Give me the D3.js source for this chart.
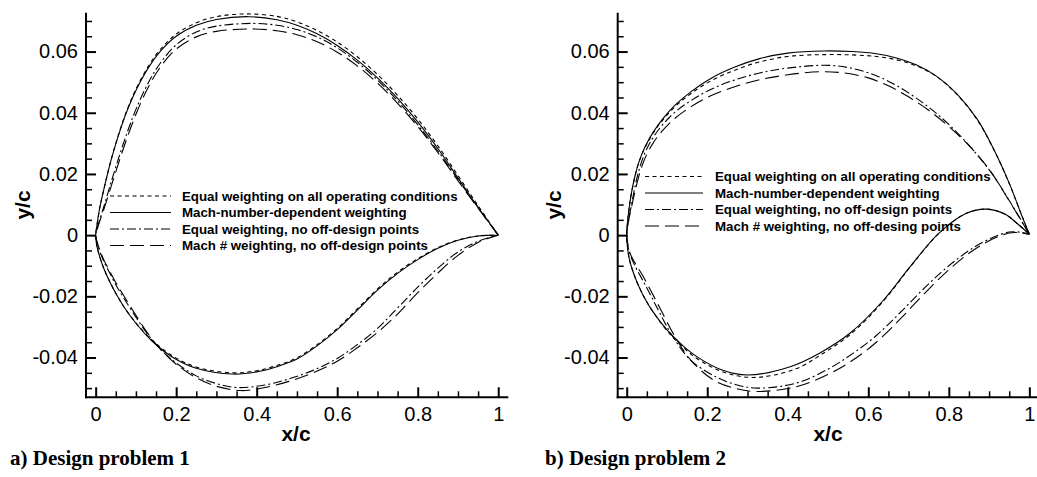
<!DOCTYPE html>
<html>
<head>
<meta charset="UTF-8">
<title>Airfoil shapes, two design problems</title>
<script src="https://d3js.org/d3.v7.min.js"></script>
<style>
    body { margin: 0; background: #fff; }
    text { font-family: "Liberation Sans", Arial, Helvetica, sans-serif; fill: #000; }
    text.caption { font-family: "Liberation Serif", "Times New Roman", serif; }
</style>
</head>
<body>
<script>
// ---- data (x/c, y/c) ----
var legend1 = ["Equal weighting on all operating conditions", "Mach-number-dependent weighting",
    "Equal weighting, no off-design points", "Mach # weighting, no off-design points"];
var legend2 = ["Equal weighting on all operating conditions", "Mach-number-dependent weighting",
    "Equal weighting, no off-design points", "Mach # weighting, no off-desing points"];
var captions = ["a) Design problem 1", "b) Design problem 2"];
var xTicks = [0, 0.2, 0.4, 0.6, 0.8, 1];
var yTicks = [-0.04, -0.02, 0, 0.02, 0.04, 0.06];
var xMinor = [0.05, 0.1, 0.15, 0.25, 0.3, 0.35, 0.45, 0.5, 0.55, 0.65, 0.7, 0.75, 0.85, 0.9, 0.95];
var yMinor = [-0.05, -0.045, -0.035, -0.03, -0.025, -0.015, -0.01, -0.005, 0.005, 0.01, 0.015,
    0.025, 0.03, 0.035, 0.045, 0.05, 0.055, 0.065, 0.07];

// design problem 1
var p1EqualUpper = [[0,0],[0.003,0.003],[0.01,0.0088],[0.02,0.0148],[0.04,0.0254],[0.06,0.0342],[0.08,0.0416],[0.1,0.0477],[0.13,0.055],[0.16,0.0606],[0.2,0.0657],[0.25,0.0694],[0.3,0.0714],[0.37,0.0723],[0.45,0.0715],[0.5,0.0697],[0.55,0.0669],[0.6,0.0631],[0.65,0.0583],[0.7,0.0525],[0.75,0.0457],[0.8,0.038],[0.85,0.0292],[0.9,0.0195],[0.95,0.0096],[1,0]];
var p1EqualLower = [[0,0],[0.003,-0.0035],[0.01,-0.007],[0.02,-0.0108],[0.035,-0.0152],[0.05,-0.019],[0.07,-0.0234],[0.1,-0.0287],[0.14,-0.0343],[0.19,-0.0394],[0.25,-0.0431],[0.34,-0.045],[0.4,-0.0443],[0.45,-0.0426],[0.5,-0.0401],[0.55,-0.0358],[0.6,-0.0305],[0.65,-0.0241],[0.7,-0.0176],[0.75,-0.0121],[0.8,-0.0077],[0.85,-0.0041],[0.9,-0.0016],[0.95,-0.0003],[1,0]];
var p1MachUpper = [[0,0],[0.003,0.003],[0.01,0.0088],[0.02,0.0148],[0.04,0.0253],[0.06,0.034],[0.08,0.0413],[0.1,0.0473],[0.13,0.0545],[0.16,0.06],[0.2,0.065],[0.25,0.0686],[0.3,0.0705],[0.38,0.0714],[0.45,0.0704],[0.5,0.0686],[0.55,0.0658],[0.6,0.062],[0.65,0.0572],[0.7,0.0514],[0.75,0.0447],[0.8,0.037],[0.85,0.0283],[0.9,0.0187],[0.95,0.0091],[1,0]];
var p1MachLower = [[0,0],[0.003,-0.0035],[0.01,-0.007],[0.02,-0.0108],[0.035,-0.0152],[0.05,-0.019],[0.07,-0.0234],[0.1,-0.0288],[0.14,-0.0346],[0.19,-0.0398],[0.25,-0.0435],[0.34,-0.0454],[0.4,-0.0447],[0.45,-0.043],[0.5,-0.0405],[0.55,-0.0362],[0.6,-0.0309],[0.65,-0.0245],[0.7,-0.018],[0.75,-0.0125],[0.8,-0.008],[0.85,-0.0043],[0.9,-0.0017],[0.95,-0.0003],[1,0]];
var p1EqualNoOffUpper = [[0,0],[0.004,0.0022],[0.01,0.005],[0.02,0.0092],[0.04,0.018],[0.06,0.0264],[0.08,0.0342],[0.1,0.0411],[0.13,0.0496],[0.16,0.0561],[0.2,0.0622],[0.25,0.0664],[0.3,0.0683],[0.39,0.0692],[0.45,0.0686],[0.5,0.0672],[0.55,0.0648],[0.6,0.0612],[0.65,0.0565],[0.7,0.0507],[0.75,0.0439],[0.8,0.0361],[0.85,0.0275],[0.9,0.0182],[0.95,0.009],[1,0]];
var p1EqualNoOffLower = [[0,0],[0.003,-0.0022],[0.01,-0.0052],[0.02,-0.0085],[0.035,-0.0124],[0.05,-0.0162],[0.07,-0.0206],[0.1,-0.0268],[0.13,-0.0325],[0.16,-0.0372],[0.2,-0.0418],[0.25,-0.046],[0.3,-0.0485],[0.35,-0.0498],[0.42,-0.049],[0.48,-0.047],[0.54,-0.0442],[0.6,-0.0403],[0.65,-0.0358],[0.7,-0.0305],[0.75,-0.0238],[0.8,-0.017],[0.85,-0.0108],[0.9,-0.0055],[0.95,-0.002],[1,0]];
var p1MachNoOffUpper = [[0,0],[0.004,0.002],[0.01,0.0045],[0.02,0.0083],[0.04,0.0166],[0.06,0.0248],[0.08,0.0325],[0.1,0.0395],[0.13,0.0482],[0.16,0.0548],[0.2,0.0608],[0.25,0.0648],[0.3,0.0666],[0.39,0.0674],[0.45,0.0668],[0.5,0.0655],[0.55,0.0632],[0.6,0.0598],[0.65,0.0553],[0.7,0.0497],[0.75,0.0431],[0.8,0.0355],[0.85,0.027],[0.9,0.0178],[0.95,0.0088],[1,0]];
var p1MachNoOffLower = [[0,0],[0.003,-0.002],[0.01,-0.0048],[0.02,-0.008],[0.035,-0.0118],[0.05,-0.0155],[0.07,-0.0198],[0.1,-0.0262],[0.13,-0.0322],[0.16,-0.0372],[0.2,-0.0422],[0.25,-0.0466],[0.3,-0.0494],[0.36,-0.0508],[0.42,-0.0498],[0.48,-0.0478],[0.54,-0.045],[0.6,-0.0412],[0.65,-0.0368],[0.7,-0.0318],[0.75,-0.0258],[0.8,-0.0188],[0.85,-0.0124],[0.9,-0.0066],[0.95,-0.0024],[1,0]];

// design problem 2
var p2EqualUpper = [[0,0],[0.002,0.0042],[0.006,0.0088],[0.012,0.014],[0.02,0.019],[0.03,0.0237],[0.045,0.0285],[0.065,0.0332],[0.09,0.0377],[0.12,0.042],[0.16,0.0463],[0.21,0.0505],[0.27,0.054],[0.33,0.0566],[0.4,0.0584],[0.49,0.059],[0.56,0.0589],[0.62,0.0584],[0.67,0.0573],[0.72,0.0553],[0.77,0.0518],[0.82,0.046],[0.87,0.0378],[0.91,0.0284],[0.95,0.0169],[0.98,0.0068],[1,0.0003]];
var p2EqualLower = [[0,0],[0.002,-0.004],[0.006,-0.0075],[0.012,-0.0105],[0.02,-0.0135],[0.03,-0.0167],[0.045,-0.0207],[0.065,-0.025],[0.1,-0.0312],[0.14,-0.0366],[0.175,-0.0404],[0.245,-0.045],[0.32,-0.0465],[0.42,-0.0437],[0.48,-0.0393],[0.555,-0.0325],[0.638,-0.0215],[0.704,-0.0104],[0.775,0.0005],[0.845,0.0072],[0.895,0.0085],[0.94,0.0068],[0.969,0.0039],[1,0.0003]];
var p2MachUpper = [[0,0],[0.002,0.0042],[0.006,0.0088],[0.012,0.014],[0.02,0.019],[0.03,0.0238],[0.045,0.0287],[0.065,0.0335],[0.09,0.0381],[0.12,0.0425],[0.16,0.0469],[0.21,0.0513],[0.27,0.055],[0.33,0.0577],[0.4,0.0595],[0.49,0.0602],[0.56,0.06],[0.62,0.0593],[0.67,0.0579],[0.72,0.0556],[0.77,0.0519],[0.82,0.0462],[0.87,0.038],[0.91,0.0285],[0.95,0.017],[0.98,0.0068],[1,0.0003]];
var p2MachLower = [[0,0],[0.002,-0.004],[0.006,-0.0075],[0.012,-0.0105],[0.02,-0.0135],[0.03,-0.0167],[0.045,-0.0207],[0.065,-0.025],[0.1,-0.031],[0.14,-0.0362],[0.175,-0.0398],[0.235,-0.044],[0.3,-0.0457],[0.406,-0.043],[0.48,-0.0385],[0.555,-0.032],[0.638,-0.0212],[0.704,-0.0103],[0.775,0.0006],[0.845,0.0072],[0.895,0.0085],[0.94,0.0068],[0.969,0.0039],[1,0.0003]];
var p2EqualNoOffUpper = [[0,0],[0.002,0.003],[0.006,0.006],[0.012,0.01],[0.02,0.0155],[0.03,0.021],[0.045,0.0268],[0.065,0.0318],[0.09,0.0362],[0.12,0.0402],[0.16,0.044],[0.21,0.0477],[0.27,0.0508],[0.33,0.053],[0.4,0.0546],[0.5,0.0555],[0.56,0.0545],[0.62,0.0521],[0.67,0.0489],[0.72,0.0447],[0.77,0.0397],[0.82,0.0336],[0.87,0.0263],[0.91,0.0196],[0.95,0.0113],[0.98,0.0048],[1,0.0003]];
var p2EqualNoOffLower = [[0,0],[0.003,-0.0035],[0.008,-0.0062],[0.015,-0.0085],[0.025,-0.0112],[0.04,-0.0148],[0.06,-0.0198],[0.085,-0.0262],[0.115,-0.0333],[0.16,-0.041],[0.224,-0.0465],[0.27,-0.0488],[0.324,-0.05],[0.42,-0.0484],[0.5,-0.0438],[0.56,-0.0388],[0.62,-0.0328],[0.68,-0.0252],[0.74,-0.0172],[0.8,-0.01],[0.86,-0.0042],[0.91,-0.0007],[0.95,0.001],[0.975,0.001],[1,0.0003]];
var p2MachNoOffUpper = [[0,0],[0.002,0.0028],[0.006,0.0056],[0.012,0.0092],[0.02,0.014],[0.03,0.0192],[0.045,0.025],[0.065,0.03],[0.09,0.0343],[0.12,0.0382],[0.16,0.042],[0.21,0.0456],[0.27,0.0486],[0.33,0.0508],[0.4,0.0524],[0.48,0.0534],[0.54,0.053],[0.6,0.0514],[0.65,0.0488],[0.7,0.0452],[0.75,0.0408],[0.8,0.0355],[0.85,0.0293],[0.9,0.0215],[0.95,0.0112],[0.98,0.0047],[1,0.0003]];
var p2MachNoOffLower = [[0,0],[0.003,-0.0032],[0.008,-0.0058],[0.015,-0.0078],[0.026,-0.0103],[0.04,-0.0133],[0.06,-0.0182],[0.085,-0.0245],[0.12,-0.0332],[0.16,-0.041],[0.216,-0.0474],[0.27,-0.0501],[0.32,-0.0511],[0.42,-0.0496],[0.5,-0.0455],[0.56,-0.041],[0.62,-0.035],[0.68,-0.0273],[0.74,-0.019],[0.8,-0.0113],[0.86,-0.005],[0.91,-0.0012],[0.95,0.0007],[0.975,0.0008],[1,0.0003]];

// ---- styles ----
var dashes = ["4,3.5", null, "9,3,2,3", "14,6"];

var w = 1037, h = 477;
var svg = d3.select("body").append("svg").attr("width", w).attr("height", h);

var y = d3.scaleLinear().domain([-0.053, 0.0727]).range([397.3, 12.7]);

var panels = [
    { xd: [-0.024, 1.025], xr: [86, 508.3], names: legend1,
      upper: [p1EqualUpper, p1MachUpper, p1EqualNoOffUpper, p1MachNoOffUpper],
      lower: [p1EqualLower, p1MachLower, p1EqualNoOffLower, p1MachNoOffLower],
      leg: { x0: 110, x1: 171, tx: 182, y: 196 }, ylab: 30, xlab: 296, cap: 10 },
    { xd: [-0.0224, 1.019], xr: [617.7, 1037], names: legend2,
      upper: [p2EqualUpper, p2MachUpper, p2EqualNoOffUpper, p2MachNoOffUpper],
      lower: [p2EqualLower, p2MachLower, p2EqualNoOffLower, p2MachNoOffLower],
      leg: { x0: 645, x1: 703, tx: 715, y: 176.5 }, ylab: 561, xlab: 828, cap: 545 }
];

var fmt = function (d) { return String(+d.toFixed(2)); };

panels.forEach(function (p, i) {
    var x = d3.scaleLinear().domain(p.xd).range(p.xr);
    var g = svg.append("g");

    // minor ticks
    g.append("g").attr("transform", "translate(" + p.xr[0] + ",0)")
        .call(d3.axisLeft(y).tickValues(yMinor).tickSize(-6).tickFormat(""))
        .call(function (s) { s.select(".domain").remove(); })
        .selectAll("line").attr("stroke-width", 1.5);
    g.append("g").attr("transform", "translate(0," + y.range()[0] + ")")
        .call(d3.axisBottom(x).tickValues(xMinor).tickSize(-6).tickFormat(""))
        .call(function (s) { s.select(".domain").remove(); })
        .selectAll("line").attr("stroke-width", 1.5);

    // major ticks and labels
    var ya = g.append("g").attr("transform", "translate(" + p.xr[0] + ",0)")
        .call(d3.axisLeft(y).tickValues(yTicks).tickSize(-10).tickPadding(8).tickFormat(fmt));
    var xa = g.append("g").attr("transform", "translate(0," + y.range()[0] + ")")
        .call(d3.axisBottom(x).tickValues(xTicks).tickSize(-10).tickPadding(10).tickFormat(fmt));
    [ya, xa].forEach(function (a) {
        a.select(".domain").remove();
        a.selectAll("line").attr("stroke-width", 2);
        a.selectAll("text").attr("font-size", 20).attr("font-family", null);
    });

    // axis lines
    g.append("line").attr("x1", p.xr[0]).attr("x2", p.xr[0])
        .attr("y1", y.range()[1]).attr("y2", y.range()[0] + 1)
        .attr("stroke", "#000").attr("stroke-width", 2);
    g.append("line").attr("x1", p.xr[0] - 1).attr("x2", p.xr[1])
        .attr("y1", y.range()[0]).attr("y2", y.range()[0])
        .attr("stroke", "#000").attr("stroke-width", 2);

    // airfoil outlines: upper surface TE -> LE, then lower surface LE -> TE
    var line = d3.line()
        .x(function (d) { return x(d[0]); })
        .y(function (d) { return y(d[1]); })
        .curve(d3.curveCatmullRom.alpha(0.5));
    p.upper.forEach(function (up, k) {
        var pts = up.slice().reverse().concat(p.lower[k].slice(1));
        g.append("path").attr("d", line(pts))
            .attr("fill", "none").attr("stroke", "#000").attr("stroke-width", 1.1)
            .attr("stroke-dasharray", dashes[k]);
    });

    // legend
    p.names.forEach(function (name, k) {
        var cy = p.leg.y + k * 16.5;
        g.append("line").attr("x1", p.leg.x0).attr("x2", p.leg.x1)
            .attr("y1", cy).attr("y2", cy)
            .attr("stroke", "#000").attr("stroke-width", 1.1)
            .attr("stroke-dasharray", dashes[k]);
        g.append("text").attr("x", p.leg.tx).attr("y", cy + 4.7)
            .attr("font-size", 13.3).attr("font-weight", "bold").text(name);
    });

    // axis titles
    g.append("text").attr("transform", "translate(" + p.ylab + ",205) rotate(-90)")
        .attr("text-anchor", "middle").attr("font-size", 21).attr("font-weight", "bold").text("y/c");
    g.append("text").attr("x", p.xlab).attr("y", 441)
        .attr("text-anchor", "middle").attr("font-size", 21).attr("font-weight", "bold").text("x/c");

    // caption
    g.append("text").attr("class", "caption").attr("x", p.cap).attr("y", 465)
        .attr("font-size", 21).attr("font-weight", "bold").text(captions[i]);
});
</script>
</body>
</html>
